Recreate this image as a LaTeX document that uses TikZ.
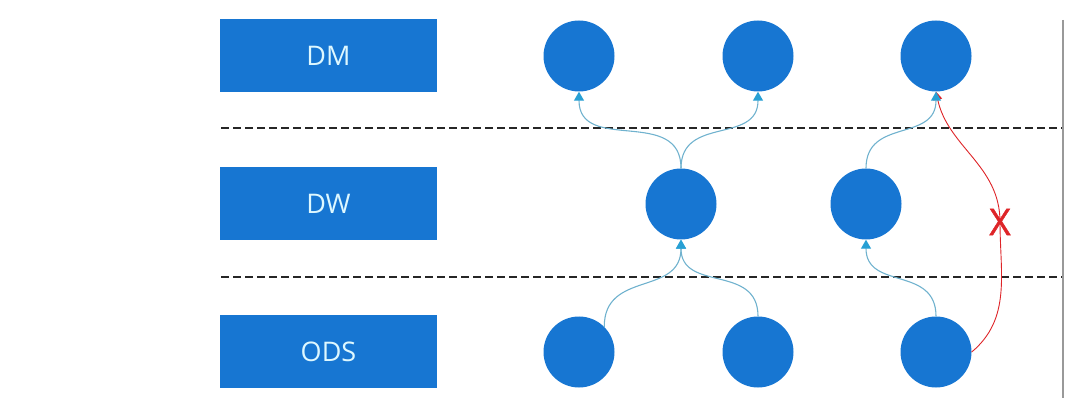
\documentclass[tikz,border=0pt]{standalone}
\usepackage{fontspec}
\setmainfont{Open Sans}
\usepackage{tikz}
\usetikzlibrary{arrows.meta}
\definecolor{layerblue}{RGB}{23,118,210}
\definecolor{labelwhite}{RGB}{222,248,255}
\definecolor{flowblue}{RGB}{112,178,206}
\definecolor{tipblue}{RGB}{40,160,212}
\definecolor{vetored}{RGB}{222,36,40}

\begin{document}
\begin{tikzpicture}[x=1pt, y=1pt, node distance={148pt},
    layer/.style={fill=layerblue, minimum width=217pt, minimum height=73pt, inner sep=0pt,
        text=labelwhite, font=\fontsize{27}{30}\selectfont},
    tbl/.style={fill=layerblue, circle, minimum size=71pt, inner sep=0pt},
    sep/.style={draw=black!85, line width=1.8pt, dash pattern=on 8pt off 4pt},
    flow/.style={draw=flowblue, line width=1.1pt, looseness=1.25,
        -{Triangle[width=10pt,length=9pt,color=tipblue]}},
    veto/.style={draw=vetored, line width=0.9pt,
        -{Triangle[width=9pt,length=8pt,color=vetored]}}]
    \useasboundingbox (0,0) rectangle (1073,407);

    % layers
    \node[layer] (DM) at (328.5,351.5) {DM};
    \node[layer] (DW) [below of=DM] {DW};
    \node[layer] (ODS) [below of=DW] {ODS};

    \draw[sep] (221,279) -- (1063,279);
    \draw[sep] (221,130) -- (1063,130);
    \draw[black!40, line width=1.4pt] (1063,387) -- (1063,9);

    % tables
    \node[tbl] (dm1) at (579,351) {};
    \node[tbl] (dm2) [node distance=179pt, right of=dm1] {};
    \node[tbl] (dm3) [node distance=178pt, right of=dm2] {};
    \node[tbl] (dw1) [below of=dm1, xshift=102pt] {};
    \node[tbl] (dw2) [below of=dm3, xshift=-70pt] {};
    \node[tbl] (ods1) [node distance=296pt, below of=dm1] {};
    \node[tbl] (ods2) [node distance=296pt, below of=dm2] {};
    \node[tbl] (ods3) [node distance=296pt, below of=dm3] {};

    % no skipping a layer
    \node[text=vetored, font=\fontsize{37}{40}\selectfont\addfontfeatures{FakeBold=1.3}, inner sep=0pt] (X) at (1000,185) {X};
    \draw[veto] (ods3.east) to[out=40,in=-90] (X.center) to[out=90,in=-78] (dm3.south);

    \draw[flow] (dw1.north) to[out=90,in=-90] (dm1.south);
    \draw[flow] (dw1.north) to[out=90,in=-90] (dm2.south);
    \draw[flow] (ods1.45) to[out=90,in=-90] (dw1.south);
    \draw[flow] (ods2.north) to[out=90,in=-90] (dw1.south);
    \draw[flow] (ods3.north) to[out=90,in=-90] (dw2.south);
    \draw[flow] (dw2.north) to[out=90,in=-90] (dm3.south);
\end{tikzpicture}
\end{document}
